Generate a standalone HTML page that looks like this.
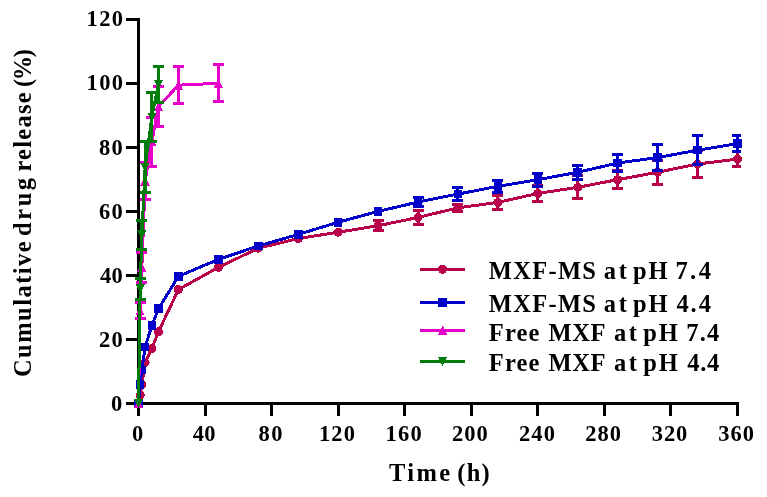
<!DOCTYPE html>
<html><head><meta charset="utf-8"><title>Cumulative drug release</title>
<style>
html,body{margin:0;padding:0;background:#fff;}
#c{will-change:transform;position:relative;width:767px;height:497px;overflow:hidden;background:#fff;font-family:"Liberation Serif",serif;font-weight:bold;color:#000;}
.t{position:absolute;white-space:nowrap;line-height:1;display:block}
.yl{position:absolute;left:0;top:0;width:340px;height:30px;transform-origin:0 0;}
</style></head><body>
<div id="c">
<svg width="767" height="497" viewBox="0 0 767 497" style="position:absolute;left:0;top:0" shape-rendering="crispEdges">
<g stroke="#000" stroke-width="3" fill="none" stroke-linecap="butt">
<path d="M138.5 17.70V405.0"/>
<path d="M137.0 403.5H739.00"/>
<path d="M126.0 403.50H138.5"/>
<path d="M126.0 339.45H138.5"/>
<path d="M126.0 275.40H138.5"/>
<path d="M126.0 211.35H138.5"/>
<path d="M126.0 147.30H138.5"/>
<path d="M126.0 83.25H138.5"/>
<path d="M126.0 19.20H138.5"/>
<path d="M138.50 403.5V415.5"/>
<path d="M205.06 403.5V415.5"/>
<path d="M271.61 403.5V415.5"/>
<path d="M338.17 403.5V415.5"/>
<path d="M404.72 403.5V415.5"/>
<path d="M471.28 403.5V415.5"/>
<path d="M537.83 403.5V415.5"/>
<path d="M604.39 403.5V415.5"/>
<path d="M670.94 403.5V415.5"/>
<path d="M737.50 403.5V415.5"/>
</g>
<path d="M378.50 220.50V230.50M373.00 220.50H384.00M373.00 230.50H384.00" stroke="#B8004B" stroke-width="3" fill="none"/>
<path d="M418.50 210.50V224.50M413.00 210.50H424.00M413.00 224.50H424.00" stroke="#B8004B" stroke-width="3" fill="none"/>
<path d="M457.50 204.50V211.50M452.00 204.50H463.00M452.00 211.50H463.00" stroke="#B8004B" stroke-width="3" fill="none"/>
<path d="M497.50 195.50V209.50M492.00 195.50H503.00M492.00 209.50H503.00" stroke="#B8004B" stroke-width="3" fill="none"/>
<path d="M537.50 185.50V201.50M532.00 185.50H543.00M532.00 201.50H543.00" stroke="#B8004B" stroke-width="3" fill="none"/>
<path d="M577.50 175.50V198.50M572.00 175.50H583.00M572.00 198.50H583.00" stroke="#B8004B" stroke-width="3" fill="none"/>
<path d="M617.50 170.50V188.50M612.00 170.50H623.00M612.00 188.50H623.00" stroke="#B8004B" stroke-width="3" fill="none"/>
<path d="M657.50 160.50V184.50M652.00 160.50H663.00M652.00 184.50H663.00" stroke="#B8004B" stroke-width="3" fill="none"/>
<path d="M697.50 150.50V177.50M692.00 150.50H703.00M692.00 177.50H703.00" stroke="#B8004B" stroke-width="3" fill="none"/>
<path d="M737.50 151.50V166.50M732.00 151.50H741.00M732.00 166.50H741.00" stroke="#B8004B" stroke-width="3" fill="none"/>
<polyline points="138.50,403.50 140.16,395.17 141.83,384.29 145.16,362.51 151.81,348.74 158.47,331.76 178.43,289.49 218.37,267.39 258.30,248.18 298.23,238.57 338.17,232.17 378.10,225.76 418.03,217.43 457.97,207.83 497.90,202.38 537.83,193.42 577.77,187.33 617.70,179.65 657.63,172.28 697.57,163.95 737.50,159.15" fill="none" stroke="#B8004B" stroke-width="3" stroke-linejoin="round"/>
<circle cx="138.50" cy="403.50" r="4.5" fill="#B8004B"/>
<circle cx="140.16" cy="395.17" r="4.5" fill="#B8004B"/>
<circle cx="141.83" cy="384.29" r="4.5" fill="#B8004B"/>
<circle cx="145.16" cy="362.51" r="4.5" fill="#B8004B"/>
<circle cx="151.81" cy="348.74" r="4.5" fill="#B8004B"/>
<circle cx="158.47" cy="331.76" r="4.5" fill="#B8004B"/>
<circle cx="178.43" cy="289.49" r="4.5" fill="#B8004B"/>
<circle cx="218.37" cy="267.39" r="4.5" fill="#B8004B"/>
<circle cx="258.30" cy="248.18" r="4.5" fill="#B8004B"/>
<circle cx="298.23" cy="238.57" r="4.5" fill="#B8004B"/>
<circle cx="338.17" cy="232.17" r="4.5" fill="#B8004B"/>
<circle cx="378.10" cy="225.76" r="4.5" fill="#B8004B"/>
<circle cx="418.03" cy="217.43" r="4.5" fill="#B8004B"/>
<circle cx="457.97" cy="207.83" r="4.5" fill="#B8004B"/>
<circle cx="497.90" cy="202.38" r="4.5" fill="#B8004B"/>
<circle cx="537.83" cy="193.42" r="4.5" fill="#B8004B"/>
<circle cx="577.77" cy="187.33" r="4.5" fill="#B8004B"/>
<circle cx="617.70" cy="179.65" r="4.5" fill="#B8004B"/>
<circle cx="657.63" cy="172.28" r="4.5" fill="#B8004B"/>
<circle cx="697.57" cy="163.95" r="4.5" fill="#B8004B"/>
<circle cx="737.50" cy="159.15" r="4.5" fill="#B8004B"/>
<path d="M418.50 197.50V206.50M413.00 197.50H424.00M413.00 206.50H424.00" stroke="#0000C8" stroke-width="3" fill="none"/>
<path d="M457.50 187.50V200.50M452.00 187.50H463.00M452.00 200.50H463.00" stroke="#0000C8" stroke-width="3" fill="none"/>
<path d="M497.50 180.50V192.50M492.00 180.50H503.00M492.00 192.50H503.00" stroke="#0000C8" stroke-width="3" fill="none"/>
<path d="M537.50 173.50V186.50M532.00 173.50H543.00M532.00 186.50H543.00" stroke="#0000C8" stroke-width="3" fill="none"/>
<path d="M577.50 165.50V179.50M572.00 165.50H583.00M572.00 179.50H583.00" stroke="#0000C8" stroke-width="3" fill="none"/>
<path d="M617.50 154.50V171.50M612.00 154.50H623.00M612.00 171.50H623.00" stroke="#0000C8" stroke-width="3" fill="none"/>
<path d="M657.50 144.50V170.50M652.00 144.50H663.00M652.00 170.50H663.00" stroke="#0000C8" stroke-width="3" fill="none"/>
<path d="M697.50 135.50V164.50M692.00 135.50H703.00M692.00 164.50H703.00" stroke="#0000C8" stroke-width="3" fill="none"/>
<path d="M737.50 135.50V151.50M732.00 135.50H741.00M732.00 151.50H741.00" stroke="#0000C8" stroke-width="3" fill="none"/>
<polyline points="138.50,403.50 140.16,384.61 141.83,369.87 145.16,346.82 151.81,325.68 158.47,308.71 178.43,276.36 218.37,259.39 258.30,245.94 298.23,234.41 338.17,222.24 378.10,211.35 418.03,202.06 457.97,194.06 497.90,186.37 537.83,179.65 577.77,172.28 617.70,162.99 657.63,157.55 697.57,150.18 737.50,143.62" fill="none" stroke="#0000C8" stroke-width="3" stroke-linejoin="round"/>
<rect x="134.20" y="399.20" width="8.6" height="8.6" fill="#0000C8"/>
<rect x="135.86" y="380.31" width="8.6" height="8.6" fill="#0000C8"/>
<rect x="137.53" y="365.57" width="8.6" height="8.6" fill="#0000C8"/>
<rect x="140.86" y="342.52" width="8.6" height="8.6" fill="#0000C8"/>
<rect x="147.51" y="321.38" width="8.6" height="8.6" fill="#0000C8"/>
<rect x="154.17" y="304.41" width="8.6" height="8.6" fill="#0000C8"/>
<rect x="174.13" y="272.06" width="8.6" height="8.6" fill="#0000C8"/>
<rect x="214.07" y="255.09" width="8.6" height="8.6" fill="#0000C8"/>
<rect x="254.00" y="241.64" width="8.6" height="8.6" fill="#0000C8"/>
<rect x="293.93" y="230.11" width="8.6" height="8.6" fill="#0000C8"/>
<rect x="333.87" y="217.94" width="8.6" height="8.6" fill="#0000C8"/>
<rect x="373.80" y="207.05" width="8.6" height="8.6" fill="#0000C8"/>
<rect x="413.73" y="197.76" width="8.6" height="8.6" fill="#0000C8"/>
<rect x="453.67" y="189.76" width="8.6" height="8.6" fill="#0000C8"/>
<rect x="493.60" y="182.07" width="8.6" height="8.6" fill="#0000C8"/>
<rect x="533.53" y="175.35" width="8.6" height="8.6" fill="#0000C8"/>
<rect x="573.47" y="167.98" width="8.6" height="8.6" fill="#0000C8"/>
<rect x="613.40" y="158.69" width="8.6" height="8.6" fill="#0000C8"/>
<rect x="653.33" y="153.25" width="8.6" height="8.6" fill="#0000C8"/>
<rect x="693.27" y="145.88" width="8.6" height="8.6" fill="#0000C8"/>
<rect x="733.20" y="139.32" width="8.6" height="8.6" fill="#0000C8"/>
<path d="M140.50 302.50V318.50M135.00 302.50H146.00M135.00 318.50H146.00" stroke="#E600C8" stroke-width="3" fill="none"/>
<path d="M141.50 252.50V282.50M136.00 252.50H147.00M136.00 282.50H147.00" stroke="#E600C8" stroke-width="3" fill="none"/>
<path d="M145.50 162.50V199.50M140.00 162.50H151.00M140.00 199.50H151.00" stroke="#E600C8" stroke-width="3" fill="none"/>
<path d="M151.50 117.50V166.50M146.00 117.50H157.00M146.00 166.50H157.00" stroke="#E600C8" stroke-width="3" fill="none"/>
<path d="M158.50 86.50V126.50M153.00 86.50H164.00M153.00 126.50H164.00" stroke="#E600C8" stroke-width="3" fill="none"/>
<path d="M178.50 66.50V103.50M173.00 66.50H184.00M173.00 103.50H184.00" stroke="#E600C8" stroke-width="3" fill="none"/>
<path d="M218.50 64.50V101.50M213.00 64.50H224.00M213.00 101.50H224.00" stroke="#E600C8" stroke-width="3" fill="none"/>
<polyline points="138.50,403.50 140.16,310.63 141.83,267.39 145.16,180.93 151.81,141.86 158.47,106.47 178.43,85.17 218.37,83.25" fill="none" stroke="#E600C8" stroke-width="3" stroke-linejoin="round"/>
<path d="M138.50 398.70L143.20 408.10H133.80Z" fill="#E600C8"/>
<path d="M140.16 305.83L144.86 315.23H135.46Z" fill="#E600C8"/>
<path d="M141.83 262.59L146.53 271.99H137.13Z" fill="#E600C8"/>
<path d="M145.16 176.13L149.86 185.53H140.46Z" fill="#E600C8"/>
<path d="M151.81 137.06L156.51 146.46H147.11Z" fill="#E600C8"/>
<path d="M158.47 101.67L163.17 111.07H153.77Z" fill="#E600C8"/>
<path d="M178.43 80.37L183.13 89.77H173.73Z" fill="#E600C8"/>
<path d="M218.37 78.45L223.07 87.85H213.67Z" fill="#E600C8"/>
<path d="M140.50 278.50V299.50M135.00 278.50H146.00M135.00 299.50H146.00" stroke="#007D0A" stroke-width="3" fill="none"/>
<path d="M141.50 220.50V249.50M136.00 220.50H147.00M136.00 249.50H147.00" stroke="#007D0A" stroke-width="3" fill="none"/>
<path d="M145.50 141.50V192.50M140.00 141.50H151.00M140.00 192.50H151.00" stroke="#007D0A" stroke-width="3" fill="none"/>
<path d="M151.50 92.50V141.50M146.00 92.50H157.00M146.00 141.50H157.00" stroke="#007D0A" stroke-width="3" fill="none"/>
<path d="M158.50 66.50V102.50M153.00 66.50H164.00M153.00 102.50H164.00" stroke="#007D0A" stroke-width="3" fill="none"/>
<polyline points="138.50,403.50 140.16,289.01 141.83,235.05 145.16,167.16 151.81,117.20 158.47,84.21" fill="none" stroke="#007D0A" stroke-width="3" stroke-linejoin="round"/>
<path d="M138.50 408.30L143.20 398.90H133.80Z" fill="#007D0A"/>
<path d="M140.16 293.81L144.86 284.41H135.46Z" fill="#007D0A"/>
<path d="M141.83 239.85L146.53 230.45H137.13Z" fill="#007D0A"/>
<path d="M145.16 171.96L149.86 162.56H140.46Z" fill="#007D0A"/>
<path d="M151.81 122.00L156.51 112.60H147.11Z" fill="#007D0A"/>
<path d="M158.47 89.01L163.17 79.61H153.77Z" fill="#007D0A"/>
<path d="M420 269.3H465" stroke="#B8004B" stroke-width="3"/>
<circle cx="442.60" cy="269.30" r="4.5" fill="#B8004B"/>
<path d="M420 302.4H465" stroke="#0000C8" stroke-width="3"/>
<rect x="438.30" y="298.10" width="8.6" height="8.6" fill="#0000C8"/>
<path d="M420 330.4H465" stroke="#E600C8" stroke-width="3"/>
<path d="M442.60 325.60L447.30 335.00H437.90Z" fill="#E600C8"/>
<path d="M420 361.5H465" stroke="#007D0A" stroke-width="3"/>
<path d="M442.60 366.30L447.30 356.90H437.90Z" fill="#007D0A"/>
</svg>
<span class="t " style="left:111.00px;top:392.70px;font-size:22.5px;letter-spacing:0.00px">0</span>
<span class="t " style="left:99.10px;top:328.65px;font-size:22.5px;letter-spacing:1.20px">20</span>
<span class="t " style="left:100.10px;top:264.60px;font-size:22.5px;letter-spacing:0.20px">40</span>
<span class="t " style="left:99.10px;top:200.55px;font-size:22.5px;letter-spacing:1.20px">60</span>
<span class="t " style="left:99.10px;top:136.50px;font-size:22.5px;letter-spacing:1.20px">80</span>
<span class="t " style="left:86.60px;top:72.45px;font-size:22.5px;letter-spacing:1.35px">100</span>
<span class="t " style="left:86.60px;top:8.40px;font-size:22.5px;letter-spacing:1.35px">120</span>
<span class="t " style="left:131.90px;top:422.80px;font-size:22.5px;letter-spacing:0.00px">0</span>
<span class="t " style="left:192.80px;top:422.80px;font-size:22.5px;letter-spacing:0.30px">40</span>
<span class="t " style="left:258.50px;top:422.80px;font-size:22.5px;letter-spacing:1.40px">80</span>
<span class="t " style="left:318.90px;top:422.80px;font-size:22.5px;letter-spacing:1.15px">120</span>
<span class="t " style="left:385.60px;top:422.80px;font-size:22.5px;letter-spacing:1.20px">160</span>
<span class="t " style="left:451.90px;top:422.80px;font-size:22.5px;letter-spacing:1.00px">200</span>
<span class="t " style="left:518.90px;top:422.80px;font-size:22.5px;letter-spacing:1.20px">240</span>
<span class="t " style="left:585.20px;top:422.80px;font-size:22.5px;letter-spacing:1.00px">280</span>
<span class="t " style="left:651.80px;top:422.80px;font-size:22.5px;letter-spacing:0.90px">320</span>
<span class="t " style="left:718.30px;top:422.80px;font-size:22.5px;letter-spacing:1.00px">360</span>
<span class="t " style="left:488.80px;top:258.70px;font-size:24.5px;letter-spacing:1.30px">MXF-MS</span>
<span class="t " style="left:603.80px;top:258.70px;font-size:24.5px;letter-spacing:2.60px">at</span>
<span class="t " style="left:633.10px;top:258.70px;font-size:24.5px;letter-spacing:1.90px">pH</span>
<span class="t " style="left:675.40px;top:258.70px;font-size:24.5px;letter-spacing:2.45px">7.4</span>
<span class="t " style="left:488.80px;top:291.80px;font-size:24.5px;letter-spacing:1.30px">MXF-MS</span>
<span class="t " style="left:603.80px;top:291.80px;font-size:24.5px;letter-spacing:2.60px">at</span>
<span class="t " style="left:633.10px;top:291.80px;font-size:24.5px;letter-spacing:1.90px">pH</span>
<span class="t " style="left:676.40px;top:291.80px;font-size:24.5px;letter-spacing:1.95px">4.4</span>
<span class="t " style="left:488.80px;top:320.80px;font-size:24.5px;letter-spacing:1.17px">Free</span>
<span class="t " style="left:548.60px;top:320.80px;font-size:24.5px;letter-spacing:0.50px">MXF</span>
<span class="t " style="left:613.90px;top:320.80px;font-size:24.5px;letter-spacing:2.50px">at</span>
<span class="t " style="left:643.20px;top:320.80px;font-size:24.5px;letter-spacing:1.90px">pH</span>
<span class="t " style="left:686.30px;top:320.80px;font-size:24.5px;letter-spacing:1.15px">7.4</span>
<span class="t " style="left:488.80px;top:350.60px;font-size:24.5px;letter-spacing:1.17px">Free</span>
<span class="t " style="left:548.60px;top:350.60px;font-size:24.5px;letter-spacing:0.50px">MXF</span>
<span class="t " style="left:613.90px;top:350.60px;font-size:24.5px;letter-spacing:2.50px">at</span>
<span class="t " style="left:643.20px;top:350.60px;font-size:24.5px;letter-spacing:1.90px">pH</span>
<span class="t " style="left:687.30px;top:350.60px;font-size:24.5px;letter-spacing:0.65px">4.4</span>
<span class="t " style="left:389.10px;top:460.50px;font-size:24.5px;letter-spacing:2.37px">Time</span>
<span class="t " style="left:457.20px;top:460.50px;font-size:24.5px;letter-spacing:1.30px">(h)</span>
<div class="yl" style="transform:translate(11.30px,376.1px) rotate(-90deg)"><span class="t " style="left:-1.00px;top:0.00px;font-size:24.5px;letter-spacing:1.48px">Cumulative</span><span class="t " style="left:140.20px;top:0.00px;font-size:24.5px;letter-spacing:2.53px">drug</span><span class="t " style="left:204.50px;top:0.00px;font-size:24.5px;letter-spacing:1.25px">release</span><span class="t " style="left:289.10px;top:0.00px;font-size:24.5px;letter-spacing:-1.40px">(%)</span></div>
</div>
</body></html>
